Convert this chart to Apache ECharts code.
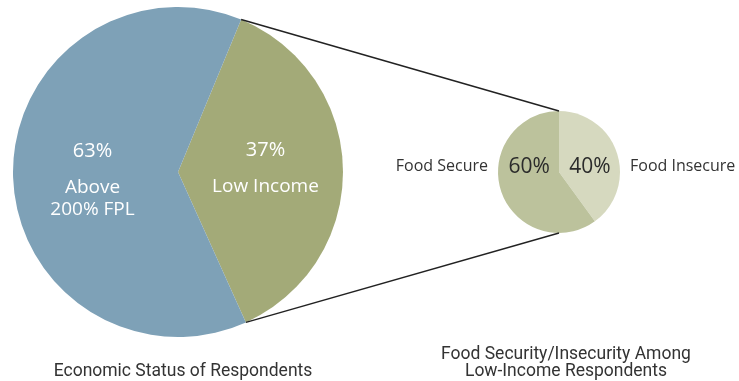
<!DOCTYPE html>
<html>
<head>
<meta charset="utf-8">
<script src="https://cdn.jsdelivr.net/npm/echarts@6/dist/echarts.min.js"></script>
<style>
  html, body { margin: 0; padding: 0; background: #fff; }
  #chart { width: 739px; height: 381px; }
</style>
</head>
<body>
<div id="chart"></div>
<script>
// Economic status of respondents (percent)
const incomeNames = ['Low Income', 'Above\n200% FPL'];
const incomeValues = [37, 63];
// Food security among low-income respondents (percent)
const foodNames = ['Food Insecure', 'Food Secure'];
const foodValues = [40, 60];
const titles = ['Economic Status of Respondents', 'Food Security/Insecurity Among\nLow-Income Respondents'];

const bigC = [178, 172], bigR = 165, bigStart = 67.5;
const smallC = [559, 172], smallR = 61, smallStart = 90;

const font = '"Open Sans", "Noto Sans", sans-serif';
const titleFont = 'Roboto, "Liberation Sans", sans-serif';

// Edge points of the low-income wedge, used for the connector lines
const total = incomeValues.reduce((a, b) => a + b, 0);
const a0 = bigStart * Math.PI / 180;
const a1 = (bigStart - incomeValues[0] / total * 360) * Math.PI / 180;
const pt = (c, r, a) => [c[0] + r * Math.cos(a), c[1] - r * Math.sin(a)];
const bigTop = pt(bigC, bigR, a0), bigBot = pt(bigC, bigR, a1);
const smallTop = [smallC[0], smallC[1] - smallR], smallBot = [smallC[0], smallC[1] + smallR];

const chart = echarts.init(document.getElementById('chart'));
chart.setOption({
  animation: false,
  title: [
    { text: titles[0], left: bigC[0], top: 358, textAlign: 'center',
      textStyle: { fontFamily: titleFont, fontSize: 17.5, fontWeight: 'normal', color: '#333' } },
    { text: titles[1], left: 561, top: 341, textAlign: 'center',
      textStyle: { fontFamily: titleFont, fontSize: 17.5, fontWeight: 'normal', color: '#333', lineHeight: 17 } }
  ],
  graphic: [
    { type: 'line', shape: { x1: bigTop[0], y1: bigTop[1], x2: smallTop[0], y2: smallTop[1] },
      style: { stroke: '#222', lineWidth: 1.5 }, z: 10 },
    { type: 'line', shape: { x1: bigBot[0], y1: bigBot[1], x2: smallBot[0], y2: smallBot[1] },
      style: { stroke: '#222', lineWidth: 1.5 }, z: 10 },
    { type: 'text', x: smallC[0] - smallR - 10, y: smallC[1] - 6,
      style: { text: foodNames[1], fontFamily: font, fontSize: 16, fill: '#333', align: 'right', verticalAlign: 'middle' } },
    { type: 'text', x: smallC[0] + smallR + 10, y: smallC[1] - 6,
      style: { text: foodNames[0], fontFamily: font, fontSize: 16, fill: '#333', align: 'left', verticalAlign: 'middle' } }
  ],
  series: [
    {
      type: 'pie', center: bigC, radius: bigR, startAngle: bigStart, clockwise: true,
      labelLine: { show: false },
      label: {
        show: true, position: 'inside',
        formatter: p => '{p|' + p.value + '%}\n{n|' + p.name + '}',
        rich: {
          p: { fontFamily: font, fontSize: 20, color: '#fff', lineHeight: 50 },
          n: { fontFamily: font, fontSize: 19, color: '#fff', lineHeight: 22 }
        }
      },
      emphasis: { disabled: true },
      data: [
        { name: incomeNames[0], value: incomeValues[0], itemStyle: { color: '#a3aa78' }, label: { offset: [2, -9] } },
        { name: incomeNames[1], value: incomeValues[1], itemStyle: { color: '#7ea1b7' }, label: { offset: [0, 0] } }
      ]
    },
    {
      type: 'pie', center: smallC, radius: smallR, startAngle: smallStart, clockwise: true,
      labelLine: { show: false },
      label: {
        show: true, position: 'inside',
        formatter: p => p.value + '%',
        fontFamily: font, fontSize: 21, color: '#2b2b2b'
      },
      emphasis: { disabled: true },
      data: [
        { name: foodNames[0], value: foodValues[0], itemStyle: { color: '#d6d9bf' }, label: { offset: [-1, 5] } },
        { name: foodNames[1], value: foodValues[1], itemStyle: { color: '#bcc29c' }, label: { offset: [2, -15] } }
      ]
    }
  ]
});
</script>
</body>
</html>
